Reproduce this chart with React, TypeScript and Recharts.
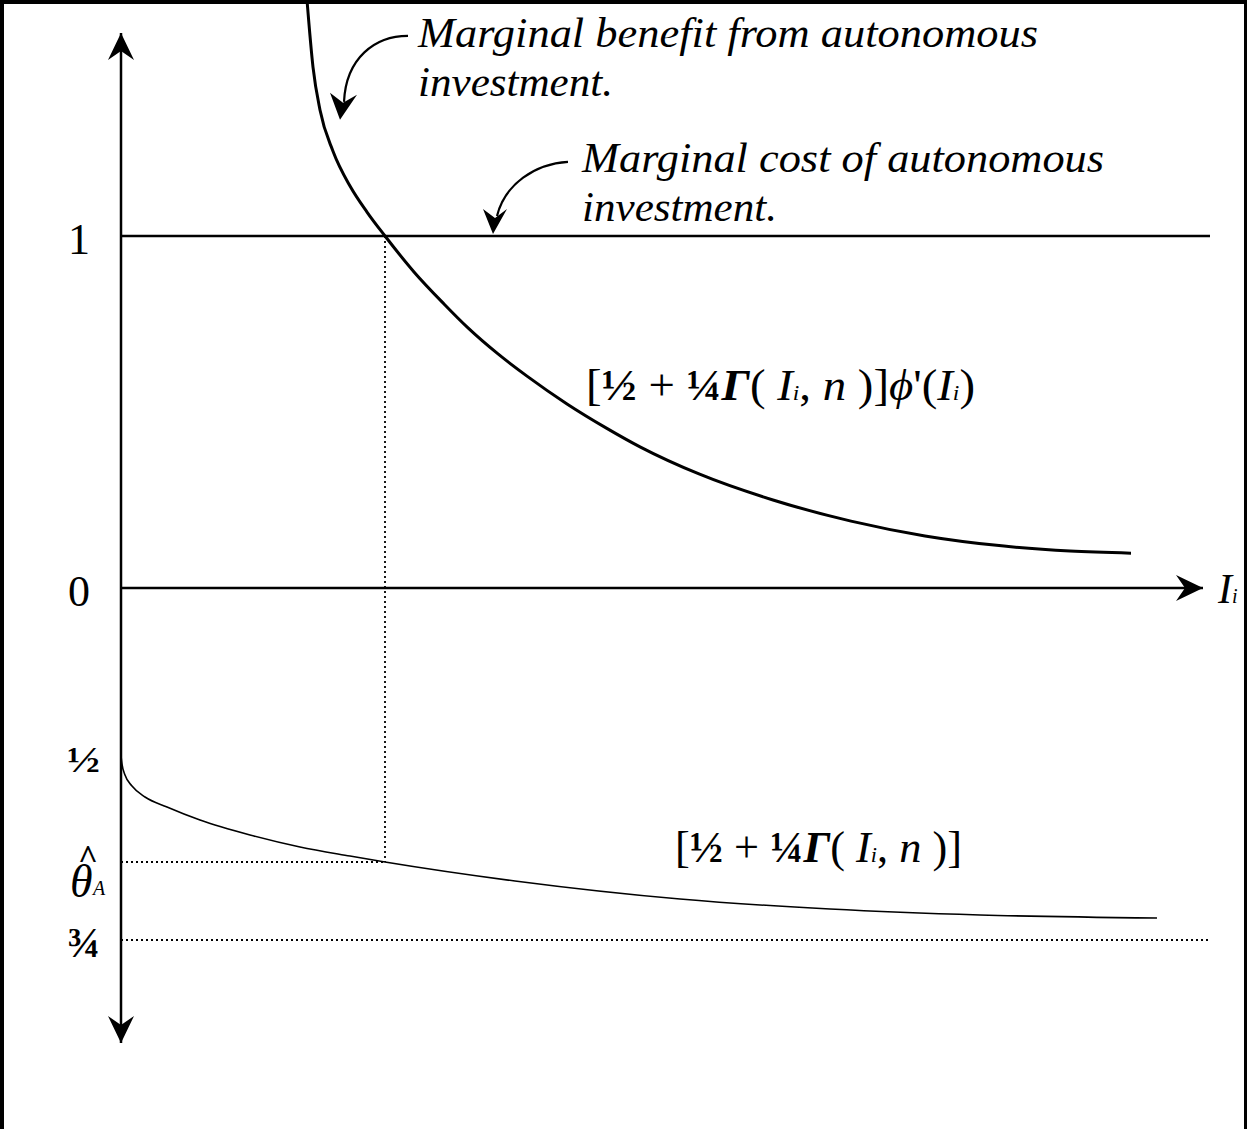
import React from 'react';
import { ComposedChart, Line, XAxis, YAxis, ReferenceLine, ReferenceDot } from 'recharts';

const W = 1247;
const H = 1129;
const serif = "'Liberation Serif', 'Times New Roman', serif";

// marginal benefit [½ + ¼Γ(I, n)]ϕ'(I)
const benefitI = [1.86, 1.92, 1.99, 2.12, 2.29, 2.46, 2.64, 2.93, 3.23, 3.47, 3.77, 4.06, 4.46, 4.85, 5.19, 5.78, 6.52, 7.3, 8.04, 8.83, 9.49, 10.1];
const benefitV = [1.67, 1.48, 1.358, 1.241, 1.142, 1.068, 1.0, 0.898, 0.807, 0.739, 0.665, 0.602, 0.523, 0.455, 0.401, 0.324, 0.25, 0.19, 0.148, 0.119, 0.105, 0.099];

// share ½ + ¼Γ(I, n), lower panel (runs from ½ towards ¾)
const shareI = [0, 0.01, 0.04, 0.11, 0.24, 0.46, 0.79, 1.29, 1.79, 2.29, 2.64, 3.94, 5.59, 7.09, 8.59, 10.36];
const shareTheta = [0.5, 0.5109, 0.5258, 0.5408, 0.5557, 0.5693, 0.587, 0.6073, 0.6236, 0.6359, 0.644, 0.6698, 0.6943, 0.7079, 0.716, 0.7201];

// tick labels
const valueTicks = [
  { v: 1, label: '1' },
  { v: 0, label: '0' },
];
const thetaHalf = 0.5;
const thetaFloor = 0.75;

const costLevel = 1;
const iStar = 2.64;
const thetaHat = 0.644;
const iEnd = 10.89;
const xArrowTip = 10.82;
const yArrowTop = 1.577;
const yArrowBottom = -1.293;

const xDomain: [number, number] = [-1.21, 11.26];
const vDomain: [number, number] = [-1.537, 1.6705];
const tDomain: [number, number] = [-0.5272, 1.0068];

const benefitData = benefitI.map((x, i) => ({ x, y: benefitV[i] }));
const shareData = shareI.map((x, i) => ({ x, y: shareTheta[i] }));

// both value axes span the full height, so a θ value maps onto the upper scale linearly
const thetaToV = (t: number) =>
  vDomain[1] - ((t - tDomain[0]) / (tDomain[1] - tDomain[0])) * (vDomain[1] - vDomain[0]);

const Arrowhead = (angle: number) => (p: any) => (
  <polygon points="0,0 -13,27 0,18 13,27" transform={`translate(${p.cx},${p.cy}) rotate(${angle})`} fill="#000" />
);

const Callout = (curve: string, head: string, lines: string[], dx: number, dy: number, widths: number[]) => (p: any) => (
  <g transform={`translate(${p.cx},${p.cy})`}>
    <path d={curve} fill="none" stroke="#000" strokeWidth={2.2} />
    <polygon points={head} fill="#000" />
    {lines.map((t, i) => (
      <text key={i} x={dx} y={dy + i * 49} fontFamily={serif} fontStyle="italic" fontSize={42}
        textLength={widths[i]} lengthAdjust="spacingAndGlyphs">{t}</text>
    ))}
  </g>
);

const Sub = ({ children }: any) => <tspan fontSize={22} fontStyle="italic">{children}</tspan>;

const Formula = (withPhi: boolean, width: number) => (p: any) => (
  <text x={p.cx} y={p.cy} fontFamily={serif} fontSize={44} textLength={width} lengthAdjust="spacingAndGlyphs">
    {'['}<tspan fontWeight="bold">½</tspan>{' + '}<tspan fontWeight="bold">¼</tspan>
    <tspan fontStyle="italic" fontWeight="bold">Γ</tspan>{'( '}<tspan fontStyle="italic">I</tspan><Sub>i</Sub>
    {', '}<tspan fontStyle="italic">n</tspan>{' )]'}
    {withPhi ? <tspan fontStyle="italic">ϕ</tspan> : null}
    {withPhi ? "'(" : null}
    {withPhi ? <tspan fontStyle="italic">I</tspan> : null}
    {withPhi ? <Sub>i</Sub> : null}
    {withPhi ? ')' : null}
  </text>
);

const ValueTick = (label: string) => (p: any) => (
  <text x={p.cx - 42} y={p.cy + 18} textAnchor="middle" fontFamily={serif} fontSize={44}>{label}</text>
);

const FracTick = (label: string, size: number, dy: number) => (p: any) => (
  <text x={p.cx - 54} y={p.cy + dy} fontFamily={serif} fontWeight="bold" fontSize={size}
    textLength={33} lengthAdjust="spacingAndGlyphs">{label}</text>
);

const ThetaHatTick = (p: any) => (
  <g>
    <text x={p.cx - 43} y={p.cy + 6} fontFamily={serif} fontWeight="bold" fontSize={34} textLength={20} lengthAdjust="spacingAndGlyphs">^</text>
    <text x={p.cx - 51} y={p.cy + 35} fontFamily={serif} fontStyle="italic" fontSize={46}>θ</text>
    <text x={p.cx - 28} y={p.cy + 33} fontFamily={serif} fontStyle="italic" fontSize={20}>A</text>
  </g>
);

const AxisTitle = (p: any) => (
  <text x={p.cx + 15} y={p.cy + 15} fontFamily={serif} fontStyle="italic" fontSize={42}>
    I<tspan fontSize={20}>i</tspan>
  </text>
);

const dotted = { stroke: '#000', strokeWidth: 1.8, strokeDasharray: '2 3' };
const solid = { stroke: '#000', strokeWidth: 2.5 };

export default function App() {
  return (
    <div style={{ position: 'relative', width: W, height: H, background: '#fff' }}>
      <style>{'body{margin:0}'}</style>
      <ComposedChart width={W} height={H} margin={{ top: 0, right: 0, bottom: 0, left: 0 }}>
        <XAxis type="number" dataKey="x" domain={xDomain} allowDataOverflow hide />
        <YAxis yAxisId="v" type="number" domain={vDomain} allowDataOverflow hide />
        <YAxis yAxisId="t" type="number" domain={tDomain} reversed allowDataOverflow hide />

        <ReferenceLine yAxisId="v" segment={[{ x: 0, y: yArrowBottom }, { x: 0, y: yArrowTop }]} {...solid} />
        <ReferenceLine yAxisId="v" segment={[{ x: 0, y: 0 }, { x: xArrowTip, y: 0 }]} {...solid} />
        <ReferenceLine yAxisId="v" segment={[{ x: 0, y: costLevel }, { x: iEnd, y: costLevel }]} {...solid} />
        <ReferenceLine yAxisId="v" segment={[{ x: iStar, y: costLevel }, { x: iStar, y: thetaToV(thetaHat) }]} {...dotted} />
        <ReferenceLine yAxisId="t" segment={[{ x: 0, y: thetaHat }, { x: iStar, y: thetaHat }]} {...dotted} />
        <ReferenceLine yAxisId="t" segment={[{ x: 0, y: thetaFloor }, { x: iEnd, y: thetaFloor }]} {...dotted} />

        <Line yAxisId="v" data={benefitData} dataKey="y" type="monotone" stroke="#000" strokeWidth={3}
          dot={false} activeDot={false} isAnimationActive={false} />
        <Line yAxisId="t" data={shareData} dataKey="y" type="monotone" stroke="#000" strokeWidth={1.6}
          dot={false} activeDot={false} isAnimationActive={false} />

        <ReferenceDot yAxisId="v" x={0} y={yArrowTop} r={0} shape={Arrowhead(0)} />
        <ReferenceDot yAxisId="v" x={0} y={yArrowBottom} r={0} shape={Arrowhead(180)} />
        <ReferenceDot yAxisId="v" x={xArrowTip} y={0} r={0} shape={Arrowhead(90)} />
        <ReferenceDot yAxisId="v" x={xArrowTip} y={0} r={0} shape={AxisTitle} />

        {valueTicks.map((t) => (
          <ReferenceDot key={t.label} yAxisId="v" x={0} y={t.v} r={0} shape={ValueTick(t.label)} />
        ))}
        <ReferenceDot yAxisId="t" x={0} y={thetaHalf} r={0} shape={FracTick('½', 36, 16)} />
        <ReferenceDot yAxisId="t" x={0} y={thetaFloor} r={0} shape={FracTick('¾', 42, 17)} />
        <ReferenceDot yAxisId="t" x={0} y={thetaHat} r={0} shape={ThetaHatTick} />

        <ReferenceDot yAxisId="v" x={2.19} y={1.33} r={0}
          shape={Callout('M 68 -84 C 35 -84, 6 -62, 4 -18', '0,0 -10,-27 3,-17 17,-25',
            ['Marginal benefit from autonomous', 'investment.'], 78, -73, [620, 195])} />
        <ReferenceDot yAxisId="v" x={3.72} y={1.006} r={0}
          shape={Callout('M 75 -72 C 42 -70, 12 -50, 4 -18', '0,0 -10,-25 2,-16 14,-25',
            ['Marginal cost of autonomous', 'investment.'], 89, -62, [522, 195])} />

        <ReferenceDot yAxisId="v" x={4.65} y={0.534} r={0} shape={Formula(true, 389)} />
        <ReferenceDot yAxisId="t" x={5.54} y={thetaHat} r={0} shape={Formula(false, 287)} />
      </ComposedChart>
      <div style={{ position: 'absolute', left: 0, top: 0, width: W - 7, height: H + 10,
        borderTop: '4px solid #000', borderLeft: '4px solid #000', borderRight: '3px solid #000', pointerEvents: 'none' }} />
    </div>
  );
}
